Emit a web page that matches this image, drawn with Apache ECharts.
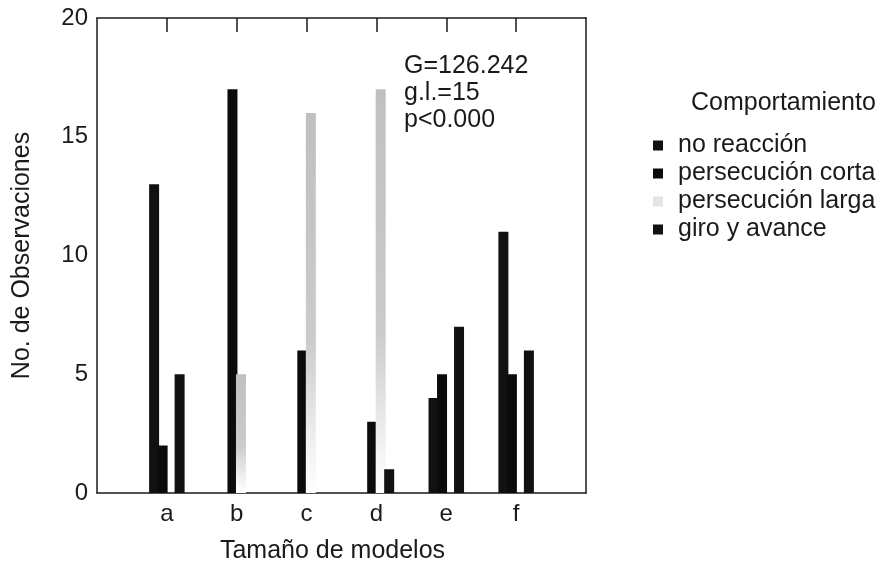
<!DOCTYPE html>
<html>
<head>
<meta charset="utf-8">
<script src="https://cdn.jsdelivr.net/npm/echarts@6/dist/echarts.min.js"></script>
<style>
  html, body { margin: 0; padding: 0; background: #fff; }
  #chart { width: 894px; height: 569px; }
</style>
</head>
<body>
<div id="chart"></div>
<script>
var categories = ['a', 'b', 'c', 'd', 'e', 'f'];
var seriesNames = ['no reacción', 'persecución corta', 'persecución larga', 'giro y avance'];
var noReaccion = [13, 0, 0, 0, 4, 11];
var persecCorta = [2, 17, 6, 3, 5, 5];
var persecLarga = [0, 5, 16, 17, 0, 0];
var giroAvance = [5, 0, 0, 1, 7, 6];
var statLines = ['G=126.242', 'g.l.=15', 'p<0.000'];

var font = '"Liberation Sans", Arial, Helvetica, sans-serif';
var ink = '#1a1a1a';

// empty slot at each end so the categories sit on the ticks like the original
var axisData = [''].concat(categories, ['']);
function pad(arr) {
    return ['-'].concat(arr, ['-']);
}
function inner(i) {
    return i > 0 && i < axisData.length - 1;
}

// the light grey bars fade out towards the base in the scan
var grayFill = new echarts.graphic.LinearGradient(0, 0, 0, 1, [
    { offset: 0, color: '#c0c0c0' },
    { offset: 0.6, color: '#cbcbcb' },
    { offset: 0.9, color: '#f4f4f4' },
    { offset: 1, color: '#ffffff' }
]);
var colors = ['#111111', '#0b0b0b', grayFill, '#111111'];
var legendColors = ['#111111', '#0b0b0b', '#e4e4e4', '#111111'];
var values = [noReaccion, persecCorta, persecLarga, giroAvance];

var myChart = echarts.init(document.getElementById('chart'));

var series = seriesNames.map(function (name, k) {
    return {
        name: name,
        type: 'bar',
        xAxisIndex: 0,
        yAxisIndex: 0,
        data: pad(values[k]),
        barWidth: 10,
        barGap: '-15%',
        itemStyle: { color: colors[k] },
        emphasis: { disabled: true }
    };
});

var frameLine = { onZero: false, lineStyle: { color: ink, width: 1.5 } };

var option = {
    animation: false,
    textStyle: { fontFamily: font, color: ink },
    grid: { left: 97, right: 308, top: 18, bottom: 75 },
    title: {
        text: 'Comportamiento',
        left: 686,
        top: 86,
        textStyle: { fontFamily: font, fontSize: 25, fontWeight: 'normal', color: ink }
    },
    legend: {
        orient: 'vertical',
        left: 648,
        top: 128,
        icon: 'rect',
        itemWidth: 10,
        itemHeight: 10,
        itemGap: 3,
        data: seriesNames.map(function (name, k) {
            return { name: name, itemStyle: { color: legendColors[k] } };
        }),
        textStyle: { fontFamily: font, fontSize: 25, color: ink, padding: [0, 0, 0, 10] }
    },
    graphic: [{
        type: 'text',
        left: 404,
        top: 53,
        style: {
            text: statLines.join('\n'),
            font: '25px ' + font,
            lineHeight: 27,
            fill: ink
        }
    }],
    xAxis: [{
        type: 'category',
        data: axisData,
        boundaryGap: false,
        axisLine: frameLine,
        axisTick: { show: false },
        axisLabel: { fontSize: 24, color: ink, margin: 9 },
        name: 'Tamaño de modelos',
        nameLocation: 'middle',
        nameGap: 46,
        nameTextStyle: { fontSize: 25, color: ink, padding: [0, 18, 0, 0] }
    }, {
        type: 'category',
        position: 'top',
        data: axisData,
        boundaryGap: false,
        axisLine: frameLine,
        axisTick: { inside: true, length: 14, interval: inner, lineStyle: { width: 1.5 } },
        axisLabel: { show: false }
    }],
    yAxis: [{
        type: 'value',
        min: 0,
        max: 20,
        interval: 5,
        axisLine: { show: true, onZero: false, lineStyle: { color: ink, width: 1.5 } },
        axisTick: { inside: true, length: 14, lineStyle: { width: 1.5 } },
        splitLine: { show: false },
        axisLabel: { fontSize: 24, color: ink, margin: 9 },
        name: 'No. de Observaciones',
        nameLocation: 'middle',
        nameGap: 62,
        nameTextStyle: { fontSize: 25, color: ink }
    }, {
        type: 'value',
        position: 'right',
        min: 0,
        max: 20,
        interval: 5,
        axisLine: { show: true, onZero: false, lineStyle: { color: ink, width: 1.5 } },
        axisTick: { inside: true, length: 14, lineStyle: { width: 1.5 } },
        splitLine: { show: false },
        axisLabel: { show: false }
    }],
    series: series
};

myChart.setOption(option);
</script>
</body>
</html>
